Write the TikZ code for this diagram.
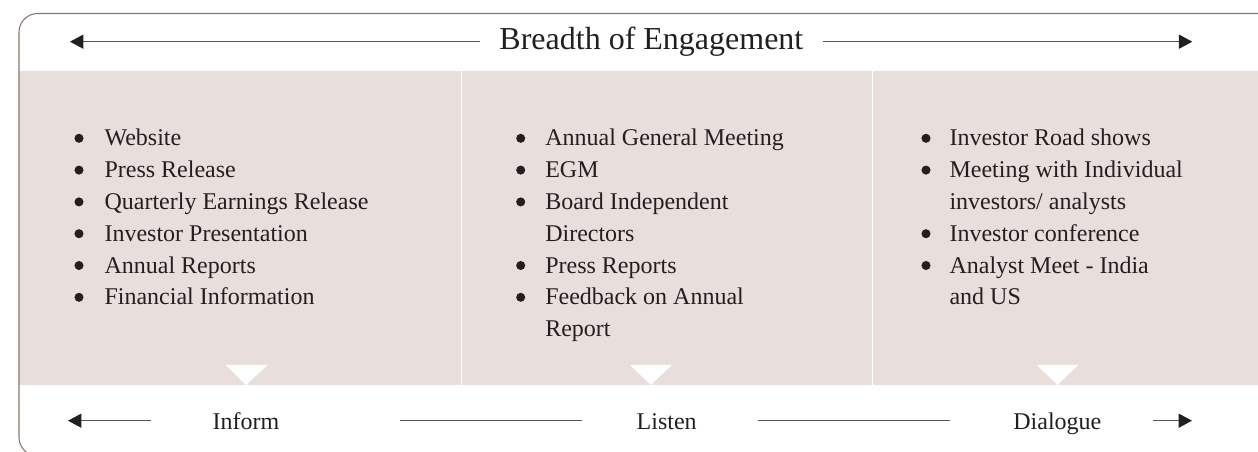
\documentclass[tikz,border=0pt]{standalone}
\usepackage{fontspec}
\setmainfont{Liberation Serif}
\usetikzlibrary{arrows.meta}
\definecolor{panelpink}{RGB}{232,223,221}
\definecolor{framebrown}{RGB}{139,118,108}
\definecolor{inkblack}{RGB}{35,31,32}
\definecolor{rulegray}{RGB}{85,85,85}

\begin{document}
\begin{tikzpicture}[x=0.75pt,y=-0.75pt,
  label/.style={text=inkblack,font=\fontsize{18pt}{24pt}\selectfont,inner sep=0pt,anchor=base},
  item/.style={label,anchor=base west},
  dot/.style={fill=inkblack},
  rule/.style={rulegray,line width=1pt},
  tip/.style={rule,-{Triangle[length=10pt,width=10.5pt,color=inkblack]}}]
  \useasboundingbox (0,0) rectangle (1258,452);
  \clip (0,0) rectangle (1258,452);
  \fill[panelpink] (19,71) rectangle (1258,385);
  \draw[white,line width=1pt] (461.5,71) -- (461.5,385) (872.5,71) -- (872.5,385);
  \fill[white] (225.7,365) -- (267.7,365) -- (246,385) -- cycle;
  \fill[white] (630,365) -- (671.7,365) -- (650.8,385) -- cycle;
  \fill[white] (1036.7,365) -- (1078.3,365) -- (1057.5,385) -- cycle;
  \draw[framebrown,line width=0.8pt,rounded corners=14pt] (1270,13.5) -- (19,13.5) -- (19,456) -- (1270,456);

  \node[label,font=\fontsize{24pt}{28pt}\selectfont,inner xsep=14.6pt] (title) at (651.4,50) {Breadth of Engagement};
  \coordinate (topL) at (70,41.7);
  \coordinate (topR) at (1192.3,41.7);
  \draw[tip] (topL -| title.west) -- (topL);
  \draw[tip] (topR -| title.east) -- (topR);

  \foreach \t [count=\i] in {Website,Press Release,Quarterly Earnings Release,Investor Presentation,Annual Reports,Financial Information}{
    \node[item] (inform-\i) at (104.3,{146+31.8*(\i-1)}) {\t};
    \fill[dot] (79,{138.3+31.8*(\i-1)}) circle (3.4pt);
  }
  \foreach \t/\b [count=\i] in {Annual General Meeting/1,EGM/1,Board Independent/1,Directors/0,Press Reports/1,Feedback on Annual/1,Report/0}{
    \node[item] (listen-\i) at (545,{146+31.8*(\i-1)}) {\t};
    \ifnum\b=1 \fill[dot] (520.7,{138.3+31.8*(\i-1)}) circle (3.4pt);\fi
  }
  \foreach \t/\b [count=\i] in {Investor Road shows/1,Meeting with Individual/1,{investors/ analysts}/0,Investor conference/1,Analyst Meet - India/1,and US/0}{
    \node[item] (dialogue-\i) at (949.3,{146+31.8*(\i-1)}) {\t};
    \ifnum\b=1 \fill[dot] (926,{138.3+31.8*(\i-1)}) circle (3.4pt);\fi
  }

  \node[label] (inform) at (246,430) {Inform};
  \node[label] (listen) at (666.7,430) {Listen};
  \node[label] (dialogue) at (1057.4,430) {Dialogue};
  \coordinate (botL) at (68,420.7);
  \coordinate (informR) at (151,420.7);
  \coordinate (lineA) at (400,420.7);
  \coordinate (lineAend) at (582.3,420.7);
  \coordinate (lineB) at (758,420.7);
  \coordinate (lineBend) at (950,420.7);
  \coordinate (dialogueR) at (1153,420.7);
  \coordinate (botR) at (1192,420.7);
  \draw[tip] (informR) -- (botL);
  \draw[rule] (lineA) -- (lineAend);
  \draw[rule] (lineB) -- (lineBend);
  \draw[tip] (dialogueR) -- (botR);
\end{tikzpicture}
\end{document}
